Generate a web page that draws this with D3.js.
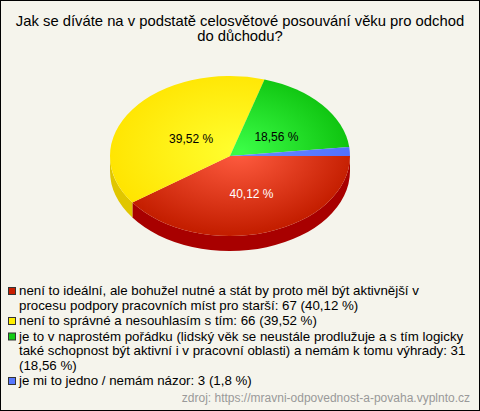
<!DOCTYPE html>
<html><head><meta charset="utf-8">
<script src="https://cdn.jsdelivr.net/npm/d3@7/dist/d3.min.js"></script>
<style>body{margin:0;background:#fff}svg{display:block}</style>
</head><body>
<script>
const title = ["Jak se díváte na v podstatě celosvětové posouvání věku pro odchod", "do důchodu?"];
const categories = [
  "není to ideální, ale bohužel nutné a stát by proto měl být aktivnější v procesu podpory pracovních míst pro starší",
  "není to správné a nesouhlasím s tím",
  "je to v naprostém pořádku (lidský věk se neustále prodlužuje a s tím logicky také schopnost být aktivní i v pracovní oblasti) a nemám k tomu výhrady",
  "je mi to jedno / nemám názor"
];
const counts = [67, 66, 31, 3];
const percentLabels = ["40,12 %", "39,52 %", "18,56 %", "1,8 %"];
const source = "zdroj: https://mravni-odpovednost-a-povaha.vyplnto.cz";

const colors = [
  {light:"#ff5c40", dark:"#c41e00", side:"#a80000", marker:"#c81e00", text:"#ffffff"},
  {light:"#ffff30", dark:"#ffe400", side:"#e0c600", marker:"#ffee00", text:"#000000"},
  {light:"#3cff48", dark:"#0cc00c", side:"#0a980a", marker:"#14cc14", text:"#000000"},
  {light:"#6a8cff", dark:"#5070ff", side:"#3a50c8", marker:"#5878ff", text:"#000000"}
];

const W = 480, H = 411;
const cx = 230, cy = 156, rx = 120, ry = 80, depth = 15;
const FONT = "'Liberation Sans', Arial, sans-serif";

const svg = d3.select("body").append("svg").attr("width", W).attr("height", H);
svg.append("rect").attr("x",0.5).attr("y",0.5).attr("width",W-1).attr("height",H-1)
  .attr("fill","#f5f4ec").attr("stroke","#000");

// title
svg.append("text").attr("x", 240).attr("y", 25.5).attr("text-anchor","middle")
  .style("font-family",FONT).style("font-size","14.8px").attr("fill","#000")
  .selectAll("tspan").data(title).join("tspan").attr("x",240).attr("dy",(d,i)=> i?15:0).text(d=>d);

const pie = d3.pie().sort(null).value(d=>d).startAngle(Math.PI/2).endAngle(Math.PI/2 + 2*Math.PI);
const arcs = pie(counts);

const defs = svg.append("defs");
colors.forEach((c,i)=>{
  const g = defs.append("radialGradient").attr("id","g"+i).attr("gradientUnits","userSpaceOnUse")
    .attr("cx",cx).attr("cy",cy-10).attr("r",rx*1.05).attr("fx",cx+10).attr("fy",cy-5)
    .attr("gradientTransform",`translate(${cx},${cy}) scale(1,${ry/rx}) translate(${-cx},${-cy})`);
  g.append("stop").attr("offset","0%").attr("stop-color",c.light);
  g.append("stop").attr("offset","100%").attr("stop-color",c.dark);
});

const P = (t, dy=0) => [cx + rx*Math.cos(t), cy + dy + ry*Math.sin(t)];

// side walls (front half: screen angle in [0, PI])
const sideG = svg.append("g");
arcs.forEach((a,i)=>{
  const t0 = a.startAngle - Math.PI/2, t1 = a.endAngle - Math.PI/2;
  [[0, Math.PI], [2*Math.PI, 3*Math.PI]].forEach(([s,e])=>{
    const u0 = Math.max(t0, s), u1 = Math.min(t1, e);
    if (u1 > u0) {
      const p0 = P(u0), p1 = P(u1), q1 = P(u1, depth), q0 = P(u0, depth);
      const d = `M${p0}A${rx},${ry} 0 0 1 ${p1}L${q1}A${rx},${ry} 0 0 0 ${q0}Z`;
      sideG.append("path").attr("d", d).attr("fill", colors[i].side);
    }
  });
});

// top faces
const topG = svg.append("g");
arcs.forEach((a,i)=>{
  const t0 = a.startAngle - Math.PI/2, t1 = a.endAngle - Math.PI/2;
  const large = (t1 - t0) > Math.PI ? 1 : 0;
  const d = `M${cx},${cy}L${P(t0)}A${rx},${ry} 0 ${large} 1 ${P(t1)}Z`;
  topG.append("path").attr("d", d).attr("fill", `url(#g${i})`);
});

// labels
arcs.forEach((a,i)=>{
  if ((a.endAngle - a.startAngle) < 0.3) return;
  const tm = (a.startAngle + a.endAngle)/2 - Math.PI/2;
  const k = 0.45;
  svg.append("text").attr("x", cx + k*rx*Math.cos(tm) + 5).attr("y", cy + k*ry*Math.sin(tm) + 8)
    .attr("text-anchor","middle").attr("fill", colors[i].text)
    .style("font-family",FONT).style("font-size","12px")
    .text(percentLabels[i]);
});

// legend
const legend = svg.append("g").style("font-family",FONT).style("font-size","13.3px");
const maxW = 450, lh = 14.5, gap = 1;
let y = 295;
categories.forEach((c,i)=>{
  const full = `${c}: ${counts[i]} (${percentLabels[i]})`;
  const words = full.split(" ");
  const t = legend.append("text").attr("x",19).attr("y",y).attr("fill","#000");
  let line = [], lines = [];
  const probe = legend.append("text").attr("x",0).attr("y",-100);
  words.forEach(w=>{
    const trial = line.concat([w]).join(" ");
    probe.text(trial);
    if (probe.node().getComputedTextLength() > maxW && line.length) { lines.push(line.join(" ")); line=[w]; }
    else line.push(w);
  });
  lines.push(line.join(" "));
  probe.remove();
  legend.append("rect").attr("x",8.5).attr("y",y-7.5).attr("width",7).attr("height",7)
    .attr("fill",colors[i].marker).attr("stroke","#333");
  lines.forEach((l,j)=>{
    t.append("tspan").attr("x",19).attr("y", y + j*lh).text(l);
  });
  y += lines.length*lh + gap;
});

svg.append("text").attr("x",470).attr("y",402).attr("text-anchor","end").attr("fill","#999")
  .style("font-family",FONT).style("font-size","12px").text(source);
</script>
</body></html>
